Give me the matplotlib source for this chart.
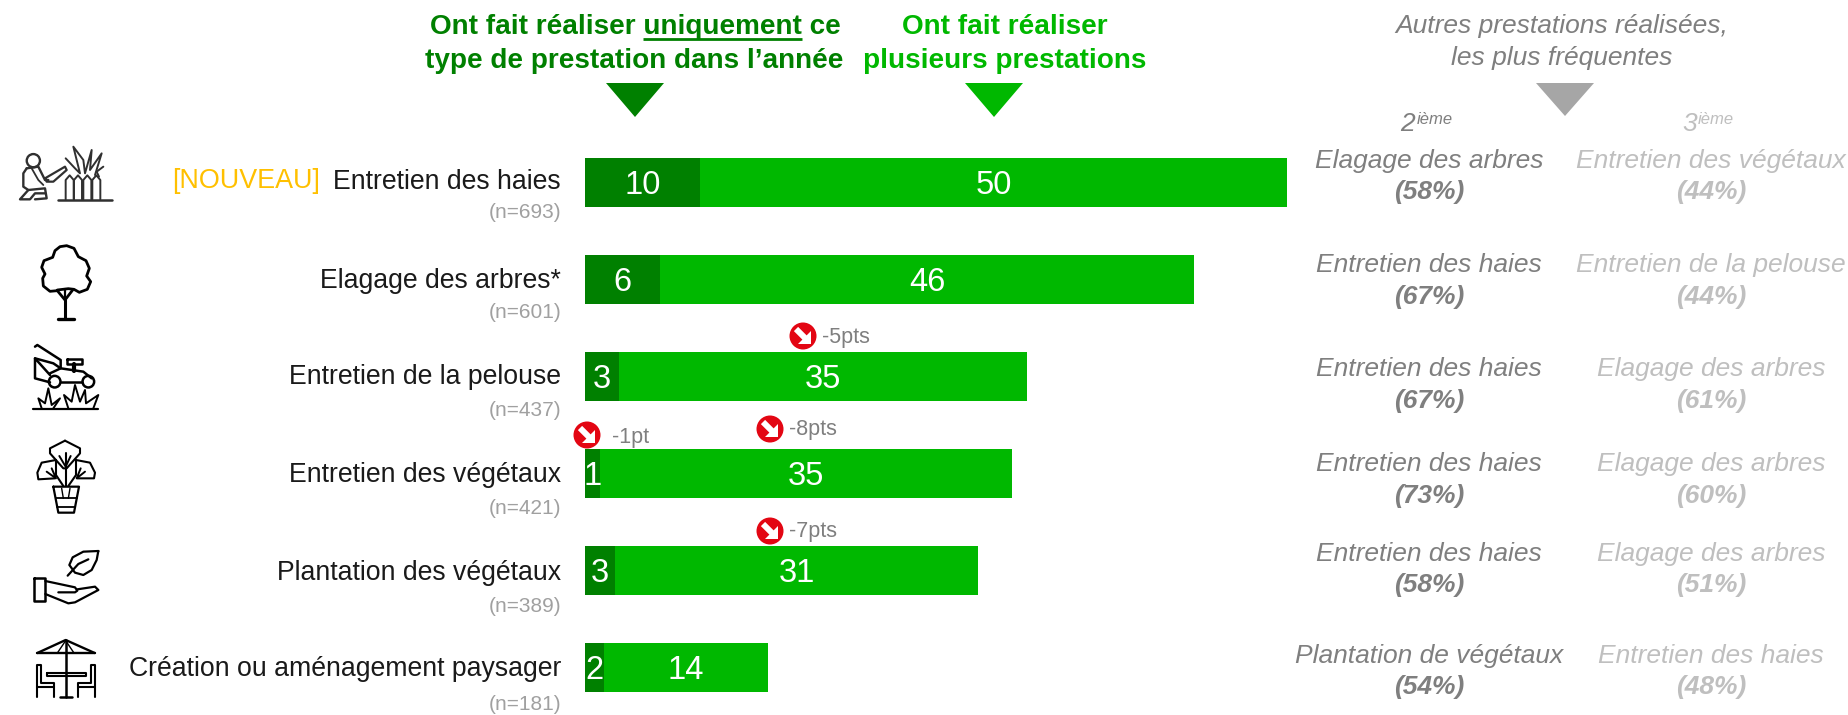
import matplotlib
matplotlib.use("Agg")
import matplotlib.pyplot as plt
from matplotlib.patches import Circle, Polygon, FancyArrow

plt.rcParams['font.family'] = ['Liberation Sans', 'DejaVu Sans']

W, H = 1849, 715

# Data (bar lengths, labels are these rounded)
categories = ["Entretien des haies", "Elagage des arbres*", "Entretien de la pelouse",
              "Entretien des végétaux", "Plantation des végétaux", "Création ou aménagement paysager"]
sizes = ["(n=693)", "(n=601)", "(n=437)", "(n=421)", "(n=389)", "(n=181)"]
only = [9.8, 6.4, 2.9, 1.3, 2.6, 1.6]
several = [50.2, 45.6, 34.85, 35.15, 31.0, 14.0]
second = ["Elagage des arbres", "Entretien des haies", "Entretien des haies",
          "Entretien des haies", "Entretien des haies", "Plantation de végétaux"]
second_pct = ["(58%)", "(67%)", "(67%)", "(73%)", "(58%)", "(54%)"]
third = ["Entretien des végétaux", "Entretien de la pelouse", "Elagage des arbres",
         "Elagage des arbres", "Elagage des arbres", "Entretien des haies"]
third_pct = ["(44%)", "(44%)", "(61%)", "(60%)", "(51%)", "(48%)"]
changes = ["-5pts", "-1pt", "-8pts", "-7pts"]

DARK = "#008000"
LIGHT = "#00B800"
GREY2 = "#7f7f7f"
GREY3 = "#bfbfbf"

fig = plt.figure(figsize=(W / 100, H / 100), dpi=100)

# overlay in pixel coords for the text and icons
ov = fig.add_axes([0, 0, 1, 1])
ov.set_xlim(0, W)
ov.set_ylim(H, 0)
ov.axis("off")

# Bars
row = 97.05
top = 182.5 - row / 2
ax = fig.add_axes([585 / W, 1 - (top + 6 * row) / H, 702.5 / W, 6 * row / H])
ax.patch.set_alpha(0)
ypos = list(range(len(categories)))
ax.barh(ypos, only, height=0.5, color=DARK)
ax.barh(ypos, several, left=only, height=0.5, color=LIGHT)
ax.set_xlim(0, 60)
ax.set_ylim(5.5, -0.5)
ax.axis("off")
for i in ypos:
    ax.text(only[i] / 2, i + 0.03, f"{only[i]:.0f}", color="white", fontsize=23.5, ha="center", va="center")
    ax.text(only[i] + several[i] / 2, i + 0.03, f"{several[i]:.0f}", color="white", fontsize=23.5, ha="center", va="center")

# Row labels
label_y = [182, 281, 377, 475, 573, 669]
n_y = [213, 312, 410, 508, 607, 705]
for i in ypos:
    ov.text(561, label_y[i], categories[i], fontsize=19.2, color="#1a1a1a", ha="right", va="center")
    ov.text(561, n_y[i], sizes[i], fontsize=15, color="#a0a0a0", ha="right", va="center")
ov.text(320, 181, "[NOUVEAU]", fontsize=19.4, color="#FFC000", ha="right", va="center")

# Right hand columns
name_y = [161, 265, 369, 464, 554, 656]
pct_y = [192, 297, 401, 496, 585, 687]
for i in ypos:
    ov.text(1429, name_y[i], second[i], fontsize=19, style="italic", color=GREY2, ha="center", va="center")
    ov.text(1429, pct_y[i], second_pct[i], fontsize=19, style="italic", weight="bold", color=GREY2, ha="center", va="center")
    ov.text(1711, name_y[i], third[i], fontsize=19, style="italic", color=GREY3, ha="center", va="center")
    ov.text(1711, pct_y[i], third_pct[i], fontsize=19, style="italic", weight="bold", color=GREY3, ha="center", va="center")

# Headers
ov.text(635, 26.5, "Ont fait réaliser uniquement ce", fontsize=20.1, weight="bold", color=DARK, ha="center", va="center")
ov.text(634, 60.5, "type de prestation dans l’année", fontsize=20.1, weight="bold", color=DARK, ha="center", va="center")
ov.plot([643, 802], [39, 39], color=DARK, lw=2, solid_capstyle="butt")
ov.text(1005, 26.5, "Ont fait réaliser", fontsize=20.1, weight="bold", color=LIGHT, ha="center", va="center")
ov.text(1005, 60.5, "plusieurs prestations", fontsize=20.1, weight="bold", color=LIGHT, ha="center", va="center")
ov.text(1562, 26, "Autres prestations réalisées,", fontsize=19, style="italic", color=GREY2, ha="center", va="center")
ov.text(1562, 58, "les plus fréquentes", fontsize=19, style="italic", color=GREY2, ha="center", va="center")

ov.add_patch(Polygon([(606, 83), (664, 83), (635, 117)], color=DARK, lw=0))
ov.add_patch(Polygon([(965, 83), (1023, 83), (994, 117)], color=LIGHT, lw=0))
ov.add_patch(Polygon([(1536, 83), (1594, 83), (1565, 116)], color="#a6a6a6", lw=0))

ov.text(1407, 124, "2", fontsize=19, style="italic", color=GREY2, ha="center", va="center")
ov.text(1435, 119, "ième", fontsize=12, style="italic", color=GREY2, ha="center", va="center")
ov.text(1690, 124, "3", fontsize=19, style="italic", color=GREY3, ha="center", va="center")
ov.text(1716, 119, "ième", fontsize=12, style="italic", color=GREY3, ha="center", va="center")

# Red arrows with the change in points
marks = [(803, 336, 822), (587, 435, 612), (770, 429, 789), (770, 531, 789)]
for (mx, my, tx), lab in zip(marks, changes):
    ov.add_patch(Circle((mx, my), 13.5, color="#E30613", lw=0, zorder=5))
    ov.add_patch(FancyArrow(mx - 7, my - 7, 12, 12, width=6, head_width=0.1, head_length=0.1,
                            length_includes_head=True, color="white", lw=0, zorder=6))
    ov.add_patch(Polygon([(mx + 8, my - 5), (mx + 8, my + 8), (mx - 5, my + 8)], color="white", lw=0, zorder=6))
    ov.text(tx, my + (3 if lab == "-1pt" else 1), lab, fontsize=15.5, color=GREY2, ha="left", va="center")


# Icons (coordinates of a 3x crop)
def trace(pts, oy, lw=1.8, color="black"):
    xs = [p[0] / 3 for p in pts]
    ys = [p[1] / 3 + oy for p in pts]
    ov.plot(xs, ys, color=color, lw=lw, solid_capstyle="round", solid_joinstyle="round")


# hedge trimmer
o1 = 130
ic = "#303030"
trace([(175, 211), (335, 211)], o1, 1.8, ic)
ov.add_patch(Circle((100 / 3, 92 / 3 + o1), 6.6, fill=False, ec=ic, lw=1.7))
trace([(80, 115), (115, 110), (135, 150), (145, 150)], o1, 1.7, ic)
trace([(80, 115), (70, 130), (70, 170), (85, 180), (135, 175), (140, 205), (105, 208)], o1, 1.7, ic)
trace([(85, 180), (60, 208), (90, 208), (105, 190), (135, 190)], o1, 1.7, ic)
trace([(95, 115), (115, 150), (130, 165)], o1, 1.3, ic)
trace([(135, 145), (195, 110), (200, 120), (160, 155), (140, 155), (135, 145)], o1, 1.6, ic)
for fx in [197, 222, 250, 277]:
    trace([(fx, 208), (fx, 150), (fx + 12, 136), (fx + 24, 150), (fx + 24, 208)], o1, 1.4, ic)
trace([(197, 85), (225, 115), (240, 130), (220, 50), (250, 90), (255, 130), (275, 60), (270, 120), (305, 70), (285, 135)], o1, 1.4, ic)
trace([(310, 110), (290, 125), (297, 140)], o1, 1.4, ic)

# tree
trace([(172, 482), (150, 484), (130, 468), (128, 445), (135, 432), (125, 412), (132, 392), (158, 382), (165, 362),
       (180, 350), (200, 347), (222, 355), (235, 380), (258, 392), (268, 415), (260, 438), (272, 455), (262, 478),
       (238, 487), (222, 478), (205, 476), (172, 480), (172, 482)], o1, 2.0)
trace([(195, 568), (195, 510)], o1, 2.2)
trace([(175, 568), (222, 568)], o1, 2.4)
trace([(172, 482), (195, 510), (218, 480)], o1, 2.0)
trace([(195, 478), (195, 510)], o1, 1.6)

# mower
trace([(100, 838), (295, 838)], o1, 1.6)
trace([(150, 735), (105, 685), (105, 745), (150, 757)], o1, 1.8)
trace([(105, 650), (112, 645), (182, 690), (182, 715), (150, 730)], o1, 1.8)
trace([(105, 685), (160, 700), (182, 715), (250, 725), (275, 745)], o1, 1.8)
trace([(183, 757), (245, 757)], o1, 1.8)
trace([(200, 688), (245, 688), (245, 702), (200, 702), (200, 688)], o1, 1.8)
trace([(222, 702), (222, 722)], o1, 3)
ov.add_patch(Circle((164 / 3, 755 / 3 + o1), 5.8, fill=False, ec="black", lw=1.8))
ov.add_patch(Circle((265 / 3, 755 / 3 + o1), 5.8, fill=False, ec="black", lw=1.8))
trace([(125, 835), (115, 805), (135, 820), (145, 775), (155, 825), (180, 805), (160, 835)], o1, 1.4)
trace([(205, 835), (192, 795), (215, 815), (225, 765), (240, 815), (255, 780), (258, 820), (295, 795), (280, 835)], o1, 1.4)

# plant in a pot
o2 = 420
trace([(195, 62), (240, 85), (240, 100), (200, 145), (190, 145), (150, 100), (150, 85), (195, 62)], o2, 1.5)
trace([(168, 120), (125, 128), (112, 158), (115, 178), (165, 175)], o2, 1.5)
trace([(228, 120), (270, 128), (285, 158), (282, 175), (232, 175)], o2, 1.5)
trace([(197, 100), (197, 198)], o2, 1.5)
trace([(168, 120), (168, 165), (190, 198)], o2, 1.5)
trace([(228, 120), (228, 165), (205, 198)], o2, 1.5)
trace([(178, 108), (197, 140), (212, 108)], o2, 1.4)
trace([(140, 155), (168, 175), (155, 145)], o2, 1.4)
trace([(255, 155), (230, 175), (242, 145)], o2, 1.4)
trace([(160, 200), (237, 200), (222, 278), (175, 278), (160, 200)], o2, 1.6)
trace([(167, 235), (230, 235)], o2, 1.3)
trace([(172, 262), (224, 262)], o2, 1.3)
trace([(185, 205), (190, 235)], o2, 1)
trace([(210, 205), (205, 235)], o2, 1)

# hand and leaf
trace([(102, 475), (136, 475), (136, 542), (102, 542), (102, 475)], o2, 1.8)
trace([(136, 483), (225, 502), (232, 512), (225, 517), (175, 517)], o2, 1.6)
trace([(136, 522), (205, 550), (225, 547), (295, 510), (285, 500), (232, 508)], o2, 1.6)
trace([(295, 393), (250, 395), (218, 412), (208, 435), (225, 458), (250, 465), (275, 450), (290, 420), (295, 393)], o2, 1.6)
trace([(203, 467), (235, 432), (265, 418)], o2, 1.6)

# patio table
trace([(112, 699), (284, 699)], o2, 1.7)
trace([(112, 699), (197, 660), (284, 699)], o2, 1.7)
trace([(172, 699), (197, 662), (222, 699)], o2, 1)
trace([(197, 660), (197, 832)], o2, 1.8)
trace([(180, 832), (215, 832)], o2, 1.8)
trace([(140, 758), (258, 758), (258, 769), (140, 769), (140, 758)], o2, 1.5)
trace([(112, 832), (112, 735), (122, 735), (122, 788), (162, 788), (162, 832)], o2, 1.5)
trace([(112, 800), (162, 800)], o2, 1.5)
trace([(284, 832), (284, 735), (274, 735), (274, 788), (233, 788), (233, 832)], o2, 1.5)
trace([(284, 800), (233, 800)], o2, 1.5)

fig.savefig("out.png", dpi=100)
